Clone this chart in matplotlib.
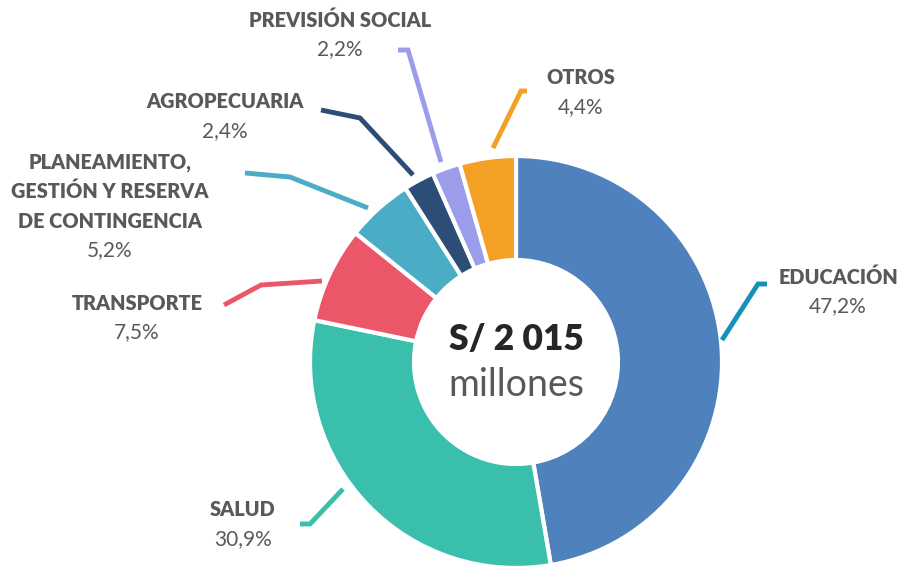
import matplotlib.pyplot as plt

# Datos
sectores = ["EDUCACIÓN", "SALUD", "TRANSPORTE",
            "PLANEAMIENTO,\nGESTIÓN Y RESERVA\nDE CONTINGENCIA",
            "AGROPECUARIA", "PREVISIÓN SOCIAL", "OTROS"]
porcentajes = [47.2, 30.9, 7.5, 5.2, 2.4, 2.2, 4.4]
total_texto = "S/ 2 015"
unidad_texto = "millones"

colores = ["#4F81BD", "#3BBFAD", "#EB5768", "#4BACC6", "#2C4D75", "#9B9CEA", "#F4A024"]
colores_linea = ["#1590B8", "#3BBFAD", "#EB5768", "#4BACC6", "#2C4D75", "#9B9CEA", "#F4A024"]

# Posiciones de etiquetas (pixeles, y desde arriba) y lineas guia
pos_etiqueta = [(838, 277), (243, 510), (137, 303), (110, 162), (225, 102), (340, 20), (581, 78)]
lineas_guia = [
    [(722, 340), (758, 284), (767, 284)],
    [(300, 524), (310, 524), (343, 489)],
    [(224, 305), (261, 285), (322, 281)],
    [(245, 173), (290, 177), (368, 208)],
    [(321, 110), (360, 118), (413, 175)],
    [(398, 50), (408, 50), (441, 162)],
    [(527, 91), (521, 91), (493, 148)],
]

W, H = 913, 567
plt.rcParams['font.family'] = ['Lato', 'DejaVu Sans']

fig = plt.figure(figsize=(W / 100, H / 100), dpi=100)
ax = fig.add_axes([0, 0, 1, 1])

ax.pie(porcentajes, colors=colores, startangle=90, counterclock=False,
       center=(516, H - 362), radius=206,
       wedgeprops=dict(width=104, edgecolor='white', linewidth=3))

gris = '#595959'
for nombre, pct, (x, y), linea, c in zip(sectores, porcentajes, pos_etiqueta, lineas_guia, colores_linea):
    xs = [p[0] for p in linea]
    ys = [H - p[1] for p in linea]
    ax.plot(xs, ys, color=c, lw=3.5, solid_capstyle='butt', solid_joinstyle='miter')
    partes = nombre.split("\n")
    for i, linea_txt in enumerate(partes):
        ax.text(x, H - (y + i * 29.5), linea_txt, ha='center', va='center',
                fontsize=14.3, fontweight='heavy', color=gris)
    ax.text(x, H - (y + len(partes) * 29.5), f"{pct:.1f}%".replace(".", ","),
            ha='center', va='center', fontsize=15, color=gris)

ax.text(516, H - 340, total_texto, ha='center', va='center', fontsize=25.5,
        fontweight='heavy', color='#262626')
ax.text(516, H - 385, unidad_texto, ha='center', va='center', fontsize=27, color=gris)

ax.set_xlim(0, W)
ax.set_ylim(0, H)
ax.set_aspect('equal')
ax.axis('off')

fig.savefig('out.png', dpi=100)
